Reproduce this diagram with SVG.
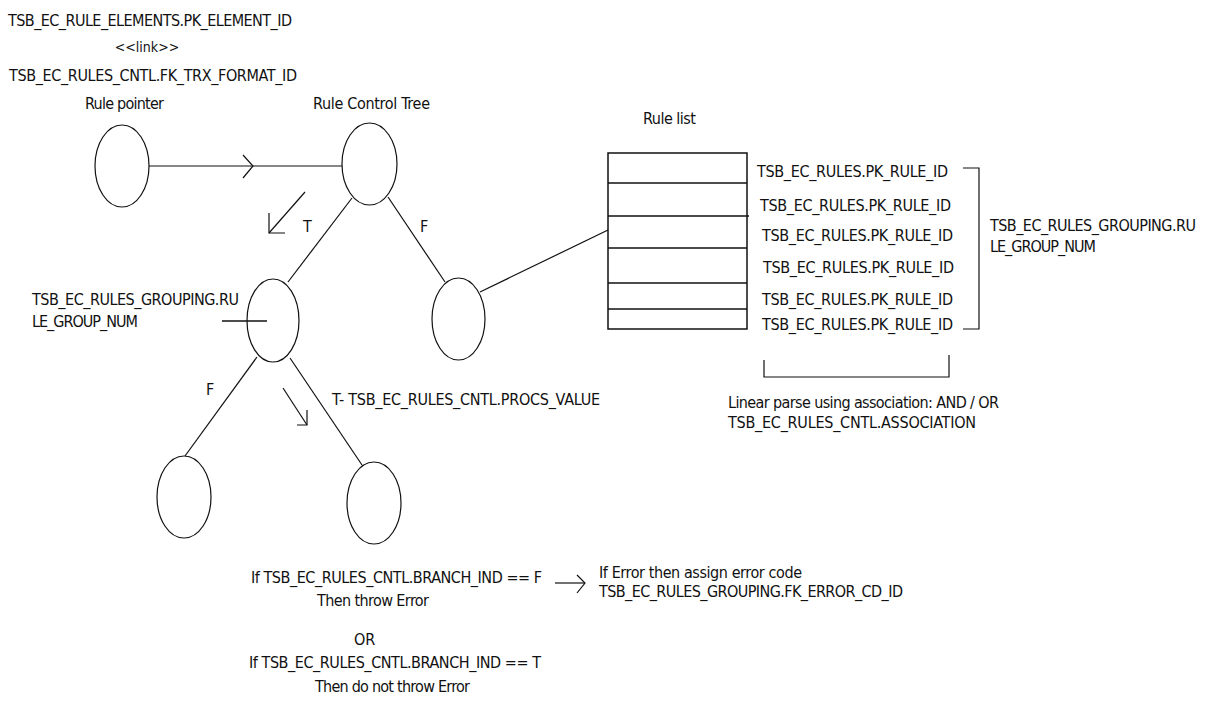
<svg xmlns="http://www.w3.org/2000/svg" width="1207" height="704" viewBox="0 0 1207 704">
  <style>
    .bg { fill: #ffffff; }
    .node { fill: none; stroke: #111; stroke-width: 1.2; }
    .edge { fill: none; stroke: #111; stroke-width: 1.2; }
    .box { fill: none; stroke: #111; stroke-width: 1.5; }
    text { font-family: "DejaVu Sans Condensed", "DejaVu Sans", sans-serif; font-size: 16px; fill: #111; }
    .small { font-size: 14px; }
  </style>
  <rect class="bg" x="0" y="0" width="1207" height="704"/>

  <!-- header: link between element id and transaction format id -->
  <g id="link-header">
    <text x="8" y="26" textLength="284">TSB_EC_RULE_ELEMENTS.PK_ELEMENT_ID</text>
    <text class="small" x="147" y="52" text-anchor="middle">&lt;&lt;link&gt;&gt;</text>
    <text x="9" y="81" textLength="288">TSB_EC_RULES_CNTL.FK_TRX_FORMAT_ID</text>
  </g>

  <!-- tree nodes -->
  <g id="rule-pointer">
    <text x="85" y="109" textLength="79">Rule pointer</text>
    <ellipse class="node" cx="122" cy="166" rx="27" ry="41"/>
  </g>
  <g id="rule-control-tree">
    <text x="313" y="109" textLength="117">Rule Control Tree</text>
    <ellipse class="node" cx="369.5" cy="164" rx="27.5" ry="41"/>
  </g>
  <g id="grouping-node">
    <text x="32" y="305" textLength="207">TSB_EC_RULES_GROUPING.RU</text>
    <text x="32" y="327" textLength="106">LE_GROUP_NUM</text>
    <ellipse class="node" cx="273" cy="320.5" rx="26" ry="41.5"/>
  </g>
  <g id="false-node">
    <ellipse class="node" cx="458.5" cy="319" rx="26.5" ry="41"/>
  </g>
  <g id="false-leaf">
    <ellipse class="node" cx="184" cy="497" rx="27" ry="41"/>
  </g>
  <g id="true-leaf">
    <ellipse class="node" cx="374" cy="503" rx="27" ry="41"/>
  </g>

  <!-- rule list table -->
  <g id="rule-list">
    <text x="643" y="124" textLength="53">Rule list</text>
    <rect class="box" x="608" y="153" width="139" height="176"/>
    <line class="box" x1="608" y1="183" x2="747" y2="183"/>
    <line class="box" x1="608" y1="216" x2="749" y2="216"/>
    <line class="box" x1="608" y1="248" x2="747" y2="248"/>
    <line class="box" x1="608" y1="283" x2="747" y2="283"/>
    <line class="box" x1="608" y1="309" x2="747" y2="309"/>
    <text x="757" y="177" textLength="191">TSB_EC_RULES.PK_RULE_ID</text>
    <text x="760" y="211" textLength="191">TSB_EC_RULES.PK_RULE_ID</text>
    <text x="762" y="241" textLength="191">TSB_EC_RULES.PK_RULE_ID</text>
    <text x="763" y="273" textLength="191">TSB_EC_RULES.PK_RULE_ID</text>
    <text x="762" y="305" textLength="191">TSB_EC_RULES.PK_RULE_ID</text>
    <text x="762" y="330" textLength="191">TSB_EC_RULES.PK_RULE_ID</text>
  </g>

  <!-- grouping bracket on the right of the list -->
  <g id="group-bracket">
    <polyline class="edge" points="963,168 979,168 979,329 963,329"/>
    <text x="990" y="231" textLength="206">TSB_EC_RULES_GROUPING.RU</text>
    <text x="990" y="252" textLength="106">LE_GROUP_NUM</text>
  </g>

  <!-- association bracket below the list -->
  <g id="association-bracket">
    <polyline class="edge" points="764,360 764,377 949,377 949,355"/>
    <text x="728" y="408" textLength="271">Linear parse using association: AND / OR</text>
    <text x="728" y="428" textLength="248">TSB_EC_RULES_CNTL.ASSOCIATION</text>
  </g>

  <!-- branch outcome notes -->
  <g id="branch-notes">
    <text x="251" y="583" textLength="291">If TSB_EC_RULES_CNTL.BRANCH_IND == F</text>
    <text x="317" y="606" textLength="112">Then throw Error</text>
    <text x="354" y="645">OR</text>
    <text x="249" y="668" textLength="292">If TSB_EC_RULES_CNTL.BRANCH_IND == T</text>
    <text x="315" y="692" textLength="155">Then do not throw Error</text>
  </g>
  <g id="error-note">
    <text x="599" y="578" textLength="203">If Error then assign error code</text>
    <text x="599" y="597" textLength="304">TSB_EC_RULES_GROUPING.FK_ERROR_CD_ID</text>
  </g>

  <!-- connectors -->
  <g id="connectors">
    <line class="edge" x1="149" y1="166" x2="342" y2="166"/>
    <polyline class="edge" points="243,155 253,166 243,178"/>
    <line class="edge" x1="352" y1="198" x2="288" y2="282"/>
    <line class="edge" x1="388" y1="197" x2="445" y2="282"/>
    <line class="edge" x1="480" y1="292" x2="608" y2="230"/>
    <line class="edge" x1="257" y1="357" x2="185" y2="456"/>
    <line class="edge" x1="290" y1="358" x2="362" y2="465"/>
    <line class="box" x1="222" y1="321" x2="267" y2="321"/>
    <line class="edge" x1="555" y1="583" x2="585" y2="583"/>
    <polyline class="edge" points="577,575 585,583 577,593"/>
  </g>

  <!-- branch direction markers and labels -->
  <g id="branch-markers">
    <line class="edge" x1="305" y1="192" x2="269" y2="233"/>
    <polyline class="edge" points="269,213 269,233 285,233"/>
    <text x="303" y="232">T</text>
    <text x="420" y="232">F</text>
    <line class="edge" x1="283" y1="388" x2="307" y2="425"/>
    <polyline class="edge" points="297,425 307,425 307,410"/>
    <text x="206" y="395">F</text>
    <text x="332" y="405" textLength="268">T- TSB_EC_RULES_CNTL.PROCS_VALUE</text>
  </g>
</svg>
